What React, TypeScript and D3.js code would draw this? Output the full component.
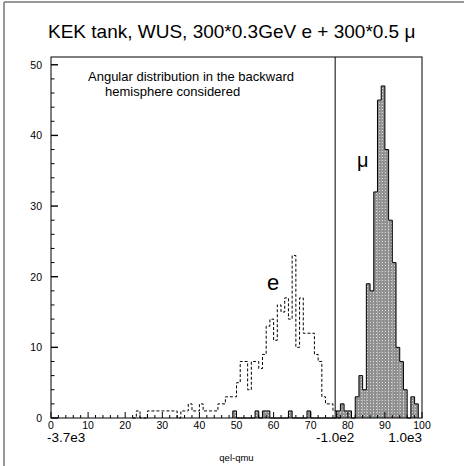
import React from "react";
import * as d3 from "d3";

// ---- data ----
const title = "KEK tank, WUS, 300*0.3GeV e + 300*0.5 \u03bc";
const noteLines = ["Angular distribution in the backward", "hemisphere considered"];
const xAxisTitle = "qel-qmu";

// electron histogram (dashed), counts per unit bin starting at eStart
const eStart = 22;
const eCounts = [
  0, 1, 0, 0, 1, 1, 1, 1, 1, 1, 1, 1, 0, 1, 1, 2, 1, 1, 2, 1, 1, 1, 1,
  2, 2, 3, 3, 3, 5, 8, 8, 4, 8, 8, 7, 9, 13, 14, 11, 16, 15, 17, 14, 23,
  10, 17, 12, 12, 12, 9, 8, 3, 2, 2, 1, 0,
];

// muon histogram (filled), non-empty bins
const muBins = [49, 55, 57, 58, 64, 69, 77, 78, 79, 80, 82, 83, 84, 85, 86, 87, 88, 89, 90, 91, 92, 93, 94, 95, 97, 98];
const muCounts = [1, 1, 1, 1, 1, 1, 1, 2, 1, 1, 3, 6, 4, 19, 18, 32, 45, 47, 38, 28, 22, 10, 8, 4, 3, 2];

const xDomain = [0, 100];
const yDomain = [0, 51.1];
const xMajor = d3.range(0, 101, 10);
const xMinor = d3.range(0, 101, 2);
const yMajor = d3.range(0, 51, 10);
const yMinor = d3.range(0, 51, 2);

// secondary (physical) axis
const secDomain = [-3700, 1000];
const secTickValues = [-3700, -100, 1000];
const secTickLabels = ["-3.7e3", "-1.0e2", "1.0e3"];
const cutValue = -100;

const FONT = "'Liberation Sans', Arial, Helvetica, sans-serif";

export default function App() {
  const W = 464, H = 466;
  const x = d3.scaleLinear().domain(xDomain).range([51, 422]);
  const y = d3.scaleLinear().domain(yDomain).range([418, 57]);
  const xs = d3.scaleLinear().domain(secDomain).range([51, 422]);

  const stepPath = (start: number, counts: number[]) => {
    let p = `M${x(start)},${y(0)}`;
    counts.forEach((c, i) => {
      p += `L${x(start + i)},${y(c)}L${x(start + i + 1)},${y(c)}`;
    });
    p += `L${x(start + counts.length)},${y(0)}`;
    return p;
  };

  const muStart = muBins[0];
  const muEnd = muBins[muBins.length - 1];
  const muFull = d3.range(muStart, muEnd + 1).map((b) => {
    const k = muBins.indexOf(b);
    return k >= 0 ? muCounts[k] : 0;
  });

  const anchors = ["start", "middle", "end"];

  return (
    <svg width={W} height={H} style={{ position: "absolute", left: 0, top: 0, background: "#fff" }}>
      <defs>
        <pattern id="dots" width={3} height={3} patternUnits="userSpaceOnUse">
          <rect width={3} height={3} fill="#8e8e8e" />
          <rect x={1} y={1} width={1} height={1} fill="#d8d8d8" />
        </pattern>
      </defs>
      {/* outer border */}
      <line x1={4} y1={2} x2={4} y2={H} stroke="#777" strokeWidth={1.5} />
      <line x1={4} y1={2} x2={W} y2={2} stroke="#777" strokeWidth={1.5} />

      <text x={48} y={38} fontFamily={FONT} fontSize={19}>{title}</text>

      {/* muon bars */}
      {muBins.map((b, i) => (
        <rect key={b} x={x(b)} y={y(muCounts[i])} width={x(b + 1) - x(b)} height={y(0) - y(muCounts[i])} fill="url(#dots)" />
      ))}
      <path d={stepPath(muStart, muFull)} fill="none" stroke="#000" strokeWidth={1} />

      {/* electron dashed */}
      <path d={stepPath(eStart, eCounts)} fill="none" stroke="#000" strokeWidth={1} strokeDasharray="3,2" />

      {/* frame */}
      <rect x={x(0)} y={y(yDomain[1])} width={x(100) - x(0)} height={y(0) - y(yDomain[1])} fill="none" stroke="#000" strokeWidth={1} />

      {/* cut line */}
      <line x1={xs(cutValue)} x2={xs(cutValue)} y1={y(yDomain[1])} y2={y(0)} stroke="#000" strokeWidth={1} />

      {/* x ticks */}
      {xMinor.map((v) => (
        <line key={"xm" + v} x1={x(v)} x2={x(v)} y1={y(0)} y2={y(0) - (v % 10 === 0 ? 6 : 3)} stroke="#000" strokeWidth={1} />
      ))}
      {xMajor.map((v) => (
        <text key={"xl" + v} x={x(v)} y={429} textAnchor="middle" fontFamily={FONT} fontSize={10.5}>{v}</text>
      ))}
      {/* y ticks */}
      {yMinor.map((v) => (
        <line key={"ym" + v} x1={x(0)} x2={x(0) + (v % 10 === 0 ? 7 : 3.5)} y1={y(v)} y2={y(v)} stroke="#000" strokeWidth={v % 10 === 0 ? 1.4 : 1} />
      ))}
      {yMajor.map((v) => (
        <text key={"yl" + v} x={42} y={y(v) + 4} textAnchor="end" fontFamily={FONT} fontSize={10.5}>{v}</text>
      ))}

      {/* secondary labels */}
      {secTickValues.map((v, i) => (
        <text key={"s" + v} x={xs(v) + (i === 0 ? -4 : 0)} y={442} textAnchor={anchors[i]} fontFamily={FONT} fontSize={13.5}>{secTickLabels[i]}</text>
      ))}
      <text x={(x(0) + x(100)) / 2} y={461} textAnchor="middle" fontFamily={FONT} fontSize={9.5}>{xAxisTitle}</text>

      {/* annotations */}
      <text x={88} y={81} fontFamily={FONT} fontSize={13}>{noteLines[0]}</text>
      <text x={105} y={96} fontFamily={FONT} fontSize={13}>{noteLines[1]}</text>
      <text x={267} y={290} fontFamily={FONT} fontSize={22}>e</text>
      <text x={357} y={167} fontFamily={FONT} fontSize={20}>{"\u03bc"}</text>
    </svg>
  );
}
